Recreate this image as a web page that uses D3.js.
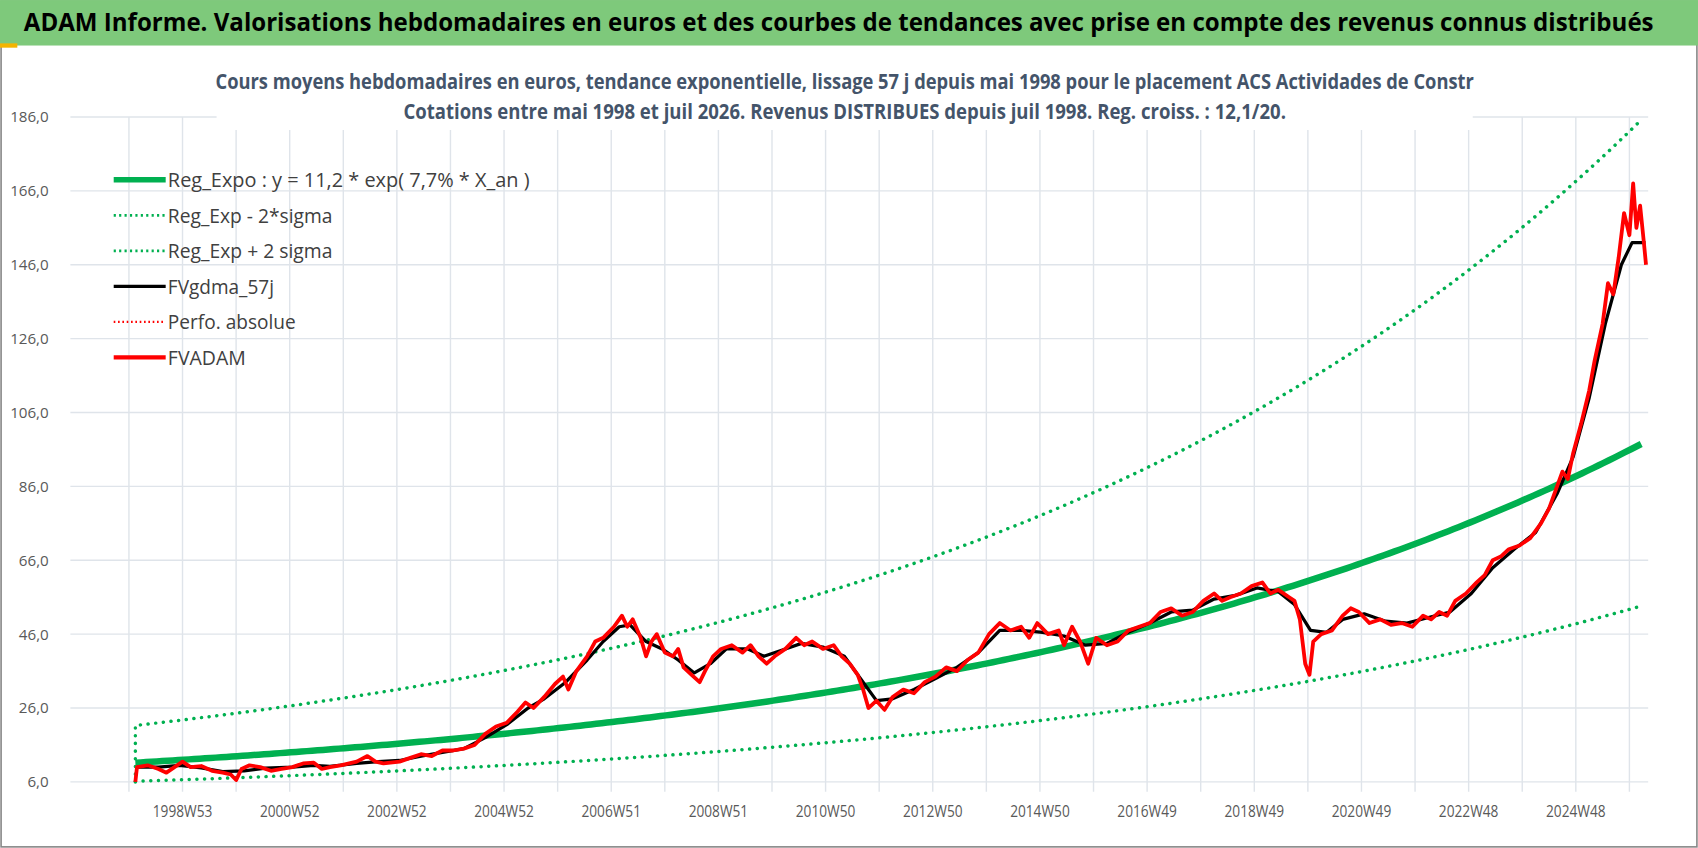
<!DOCTYPE html>
<html><head><meta charset="utf-8">
<script src="https://cdn.jsdelivr.net/npm/d3@7"></script>
<style>
body{margin:0;background:#fff;}
text{font-family:"Open Sans",sans-serif;}
</style></head>
<body>
<script>
// chart values
var yTicks = [6, 26, 46, 66, 86, 106, 126, 146, 166, 186];
var xLabels = ["1998W53","2000W52","2002W52","2004W52","2006W51","2008W51","2010W50","2012W50","2014W50","2016W49","2018W49","2020W49","2022W48","2024W48"];
var xLabelYears = [1999,2001,2003,2005,2007,2009,2011,2013,2015,2017,2019,2021,2023,2025];
var regA = 11.2, regRate = 0.077, startYear = 1998.37, endYear = 2026.56;
var sigmaUp = 1.9, sigmaDown = 0.55;

var fvadamYears = [1998.37,1998.40,1998.6,1998.8,1998.95,1999.1,1999.25,1999.4,1999.6,1999.8,2000.0,2000.15,2000.25,2000.35,2000.5,2000.7,2000.9,2001.1,2001.3,2001.5,2001.7,2001.85,2002.0,2002.2,2002.5,2002.7,2002.85,2003.0,2003.3,2003.5,2003.7,2003.9,2004.1,2004.3,2004.5,2004.7,2004.9,2005.1,2005.3,2005.5,2005.65,2005.8,2006.0,2006.2,2006.35,2006.45,2006.6,2006.8,2006.95,2007.1,2007.3,2007.45,2007.55,2007.65,2007.8,2007.9,2008.0,2008.1,2008.25,2008.4,2008.5,2008.6,2008.75,2008.9,2009.0,2009.15,2009.3,2009.5,2009.7,2009.85,2010.0,2010.15,2010.3,2010.5,2010.7,2010.85,2011.0,2011.2,2011.4,2011.55,2011.7,2011.85,2011.95,2012.05,2012.2,2012.35,2012.5,2012.7,2012.9,2013.1,2013.3,2013.5,2013.7,2013.9,2014.1,2014.3,2014.5,2014.7,2014.9,2015.05,2015.2,2015.4,2015.6,2015.7,2015.85,2016.0,2016.15,2016.3,2016.5,2016.7,2016.9,2017.1,2017.3,2017.5,2017.7,2017.9,2018.1,2018.3,2018.5,2018.65,2018.8,2019.0,2019.2,2019.4,2019.55,2019.7,2019.9,2020.0,2020.1,2020.2,2020.28,2020.35,2020.5,2020.7,2020.9,2021.05,2021.2,2021.4,2021.6,2021.8,2022.0,2022.2,2022.4,2022.55,2022.7,2022.85,2023.0,2023.2,2023.4,2023.55,2023.7,2023.85,2024.0,2024.2,2024.4,2024.6,2024.75,2024.9,2025.0,2025.1,2025.2,2025.35,2025.5,2025.6,2025.75,2025.85,2025.95,2026.05,2026.15,2026.25,2026.32,2026.38,2026.45,2026.52,2026.56];
var fvadamValues = [6,10,10.5,9.5,8.5,10,11.5,10,10.3,9,8.5,8,6.5,9.5,10.5,10,9,9.5,10,11,11.2,9.5,10,10.5,11.5,13,11.5,11,11.5,12.5,13.5,13,14.5,14.5,15,16,19,21,22,25,27.5,26,29,32.5,34.5,31,36,40,44,45,48,51,48,50,45,40,44,46,41,40,42,37,35,33,36,40,42,43,41,43,40,38,40,42,45,43,44,42,43,40,38,35,31,26,28,25.5,29,31,30,33,34.5,37,36,39,41,46,49,47,48,45,49,46,47,43,48,44,38,45,43,44,47,48,49,52,53,51,52,55,57,55,56,57,59,60,57,58,56,55,50,38,35,44,46,47,51,53,52,49,50,48.5,49,48,51,50,52,51,55,57,60,62,66,67,69,70,72,76,80,86,90,88,95,103,112,120,130,141,138,148,160,154,168,156,162,152,146];

var gdmaYears = [1998.4,1998.8,1999.2,1999.6,2000.0,2000.4,2000.8,2001.3,2001.7,2002.0,2002.5,2002.9,2003.3,2003.7,2004.1,2004.5,2004.9,2005.3,2005.7,2006.0,2006.4,2006.8,2007.1,2007.4,2007.6,2007.9,2008.2,2008.5,2008.8,2009.1,2009.4,2009.8,2010.1,2010.5,2010.8,2011.2,2011.6,2011.9,2012.2,2012.5,2012.9,2013.3,2013.7,2014.1,2014.5,2014.9,2015.3,2015.7,2016.1,2016.5,2016.9,2017.3,2017.7,2018.1,2018.5,2018.9,2019.3,2019.7,2020.0,2020.3,2020.6,2020.9,2021.3,2021.7,2022.1,2022.5,2022.9,2023.3,2023.7,2024.1,2024.5,2024.9,2025.2,2025.5,2025.8,2026.1,2026.3,2026.55];
var gdmaValues = [10,10,10.5,9.8,8.8,9,9.7,10,10.5,10.2,11,11.5,11.8,13,14,15,18,21.5,26,28.5,33,39,44,48,48.5,44,42,39,35.5,38,42,42,40,42,43.5,42.5,40,34,28,28.5,31,34,37,41,47,47,46.5,45.5,43,43.5,46.5,49,52,52.5,55.5,56.5,58.5,57.5,54,47,46.5,50,51.5,49.5,49,50.5,52,57,64,69,73.5,84,94,110,130,146,152,152];

var W = 1568, H = 783;
var svg = d3.select("body").append("svg")
  .attr("width", 1698).attr("height", 848)
  .attr("viewBox", "0 0 " + W + " " + H);

svg.append("rect").attr("width", W).attr("height", H).attr("fill", "#fff");
svg.append("rect").attr("x", 1).attr("y", 1).attr("width", W - 2).attr("height", H - 2)
  .attr("fill", "none").attr("stroke", "#888").attr("stroke-width", 1.5);

var x = d3.scaleLinear().domain([startYear, endYear]).range([125, 1520]);
var y = d3.scaleLinear().domain([6, 186]).range([722, 108]);

// gridlines
var gridYears = d3.range(1998, 2027);
svg.selectAll(".vg").data(gridYears).enter().append("line")
  .attr("x1", function (d) { return x(d + 0.25); }).attr("x2", function (d) { return x(d + 0.25); })
  .attr("y1", 108).attr("y2", 731)
  .attr("stroke", "#dfe4ea").attr("stroke-width", 1.3);
svg.selectAll(".hg").data(yTicks).enter().append("line")
  .attr("x1", 65).attr("x2", 1522)
  .attr("y1", function (d) { return y(d); }).attr("y2", function (d) { return y(d); })
  .attr("stroke", "#dfe4ea").attr("stroke-width", 1.3);

svg.selectAll(".yl").data(yTicks).enter().append("text")
  .attr("x", 45).attr("y", function (d) { return y(d) + 5; })
  .attr("text-anchor", "end").attr("font-size", 14).attr("fill", "#595959")
  .text(function (d) { return d.toFixed(1).replace(".", ","); });

svg.selectAll(".xl").data(xLabels).enter().append("text")
  .attr("x", function (d, i) { return x(xLabelYears[i] + 0.25); }).attr("y", 754)
  .attr("text-anchor", "middle").attr("font-size", 15).attr("fill", "#595959")
  .attr("textLength", 55).attr("lengthAdjust", "spacingAndGlyphs")
  .text(function (d) { return d; });

// regression curves from the legend formula
var regYears = d3.range(startYear, endYear + 0.001, 0.1);
function reg(t) { return regA * Math.exp(regRate * (t - startYear)); }
var line = d3.line().x(function (d) { return x(d[0]); }).y(function (d) { return y(d[1]); });

var upPts = [[startYear, 6]].concat(regYears.map(function (t) { return [t, reg(t) * sigmaUp]; }));
var downPts = regYears.map(function (t) { return [t, reg(t) * sigmaDown]; });
svg.append("path").attr("d", line(upPts)).attr("fill", "none")
  .attr("stroke", "#00b050").attr("stroke-width", 3.2).attr("stroke-dasharray", "0.1 7").attr("stroke-linecap", "round");
svg.append("path").attr("d", line(downPts)).attr("fill", "none")
  .attr("stroke", "#00b050").attr("stroke-width", 3.2).attr("stroke-dasharray", "0.1 7").attr("stroke-linecap", "round");
svg.append("path").attr("d", line(regYears.map(function (t) { return [t, reg(t)]; }))).attr("fill", "none")
  .attr("stroke", "#00b050").attr("stroke-width", 6);

svg.append("path").attr("d", line(gdmaYears.map(function (t, i) { return [t, gdmaValues[i]]; })))
  .attr("fill", "none").attr("stroke", "#000").attr("stroke-width", 3).attr("stroke-linejoin", "round");
svg.append("path").attr("d", line(fvadamYears.map(function (t, i) { return [t, fvadamValues[i]]; })))
  .attr("fill", "none").attr("stroke", "#ff0000").attr("stroke-width", 3.5).attr("stroke-linejoin", "round");

// titles
svg.append("rect").attr("x", 0).attr("y", 0).attr("width", W).attr("height", 42).attr("fill", "#7ec97b");
svg.append("rect").attr("x", 0).attr("y", 40).attr("width", 16).attr("height", 4).attr("fill", "#f4b400");
svg.append("text").attr("x", 22).attr("y", 29).attr("font-size", 23).attr("font-weight", "bold").attr("fill", "#000")
  .attr("textLength", 1505).attr("lengthAdjust", "spacingAndGlyphs")
  .text("ADAM Informe. Valorisations hebdomadaires en euros et des courbes de tendances avec prise en compte des revenus connus distribués");

svg.append("rect").attr("x", 200).attr("y", 62).attr("width", 1160).attr("height", 58).attr("fill", "#fff");
svg.append("text").attr("x", 780).attr("y", 82).attr("text-anchor", "middle").attr("font-size", 19).attr("font-weight", "bold").attr("fill", "#44546a")
  .attr("textLength", 1162).attr("lengthAdjust", "spacingAndGlyphs")
  .text("Cours moyens hebdomadaires en euros, tendance exponentielle, lissage 57 j depuis mai 1998 pour le placement ACS Actividades de Constr");
svg.append("text").attr("x", 780).attr("y", 110).attr("text-anchor", "middle").attr("font-size", 19).attr("font-weight", "bold").attr("fill", "#44546a")
  .attr("textLength", 815).attr("lengthAdjust", "spacingAndGlyphs")
  .text("Cotations entre mai 1998 et juil 2026. Revenus DISTRIBUES depuis juil 1998. Reg. croiss. : 12,1/20.");

// legend
var legNames = ["Reg_Expo : y = 11,2 * exp( 7,7% *  X_an )", "Reg_Exp - 2*sigma", "Reg_Exp + 2 sigma", "FVgdma_57j", "Perfo. absolue", "FVADAM"];
var legLens = [334, 152, 152, 98, 118, 72];
var legColors = ["#00b050", "#00b050", "#00b050", "#000", "#ff0000", "#ff0000"];
var legWidths = [5, 2.5, 2.5, 3, 2, 4];
var legDash = [null, "2 3", "2 3", null, "1.5 2.5", null];
var leg = svg.selectAll(".lg").data(legNames).enter().append("g")
  .attr("transform", function (d, i) { return "translate(105," + (166 + i * 32.8) + ")"; });
leg.append("line").attr("x1", 0).attr("x2", 48)
  .attr("stroke", function (d, i) { return legColors[i]; })
  .attr("stroke-width", function (d, i) { return legWidths[i]; })
  .attr("stroke-dasharray", function (d, i) { return legDash[i]; });
leg.append("text").attr("x", 50).attr("y", 7).attr("font-size", 19).attr("fill", "#404040")
  .attr("textLength", function (d, i) { return legLens[i]; }).attr("lengthAdjust", "spacingAndGlyphs")
  .text(function (d) { return d; });
</script>
</body></html>
